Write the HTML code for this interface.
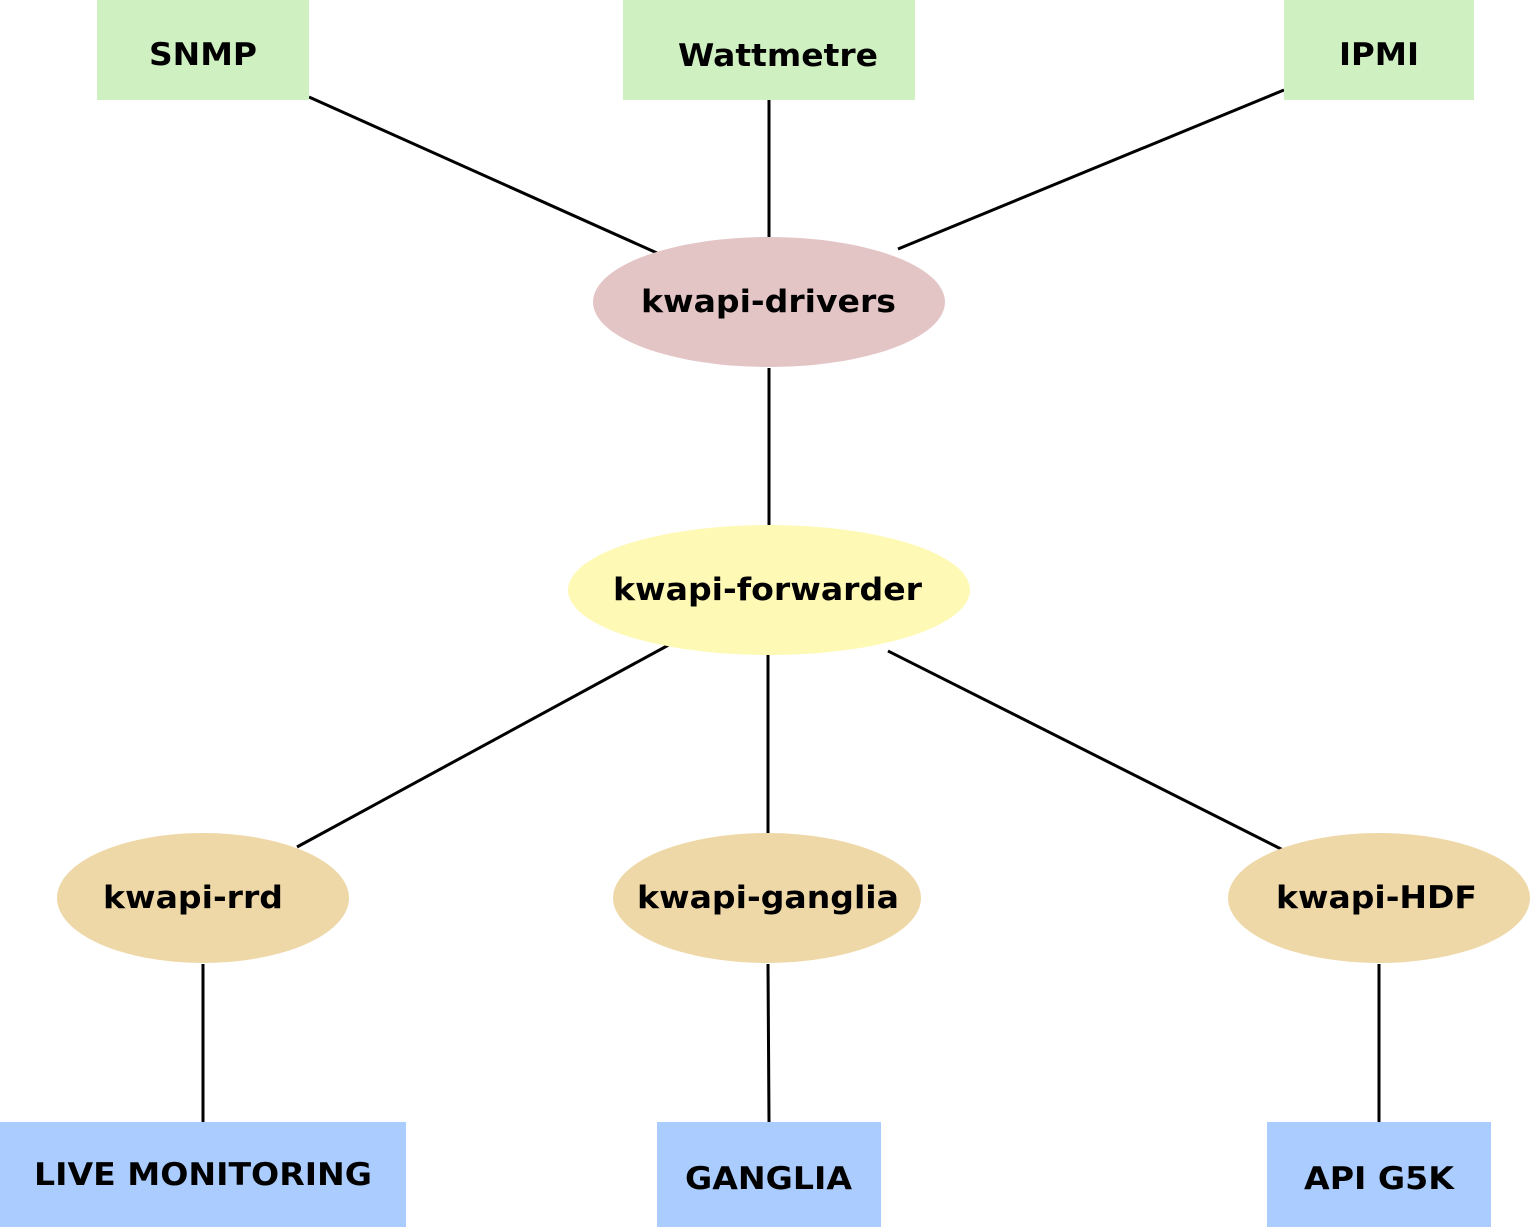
<!DOCTYPE html>
<html><head><style>html,body{margin:0;padding:0;background:#fff}svg{display:block}</style></head>
<body>
<svg width="1531" height="1227" viewBox="0 0 1531 1227" xmlns="http://www.w3.org/2000/svg" font-family="'DejaVu Sans','Liberation Sans',sans-serif" font-weight="bold" font-size="31">
<g stroke="#000" stroke-width="3" fill="none">
<line x1="309" y1="97" x2="666" y2="257"/>
<line x1="769" y1="100" x2="769" y2="238"/>
<line x1="1284" y1="90" x2="898" y2="249"/>
<line x1="769" y1="368" x2="769" y2="525"/>
<line x1="676" y1="641" x2="297" y2="847"/>
<line x1="768" y1="655" x2="768" y2="833"/>
<line x1="888" y1="651" x2="1283" y2="850"/>
<line x1="203" y1="964" x2="203" y2="1122"/>
<line x1="768" y1="964" x2="769" y2="1122"/>
<line x1="1379" y1="964" x2="1379" y2="1122"/>
</g>
<rect x="97" y="0" width="212" height="100" fill="#cff0c1"/>
<rect x="623" y="0" width="292" height="100" fill="#cff0c1"/>
<rect x="1284" y="0" width="190" height="100" fill="#cff0c1"/>
<ellipse cx="769" cy="302" rx="176" ry="65" fill="#e4c5c6"/>
<ellipse cx="769" cy="590" rx="201" ry="65" fill="#fef9b5"/>
<ellipse cx="203" cy="898" rx="146" ry="65" fill="#efd8a7"/>
<ellipse cx="767" cy="898" rx="154" ry="65" fill="#efd8a7"/>
<ellipse cx="1379" cy="898" rx="151" ry="65" fill="#efd8a7"/>
<rect x="0" y="1122" width="406" height="105" fill="#aaccfe"/>
<rect x="657" y="1122" width="224" height="105" fill="#aaccfe"/>
<rect x="1267" y="1122" width="224" height="105" fill="#aaccfe"/>
<g fill="#000">
<text x="149" y="65" textLength="108" lengthAdjust="spacingAndGlyphs">SNMP</text>
<text x="678" y="66" textLength="200" lengthAdjust="spacingAndGlyphs">Wattmetre</text>
<text x="1339" y="65" textLength="80" lengthAdjust="spacingAndGlyphs">IPMI</text>
<text x="641" y="312" textLength="255" lengthAdjust="spacingAndGlyphs">kwapi-drivers</text>
<text x="613" y="600" textLength="309" lengthAdjust="spacingAndGlyphs">kwapi-forwarder</text>
<text x="103" y="908" textLength="180" lengthAdjust="spacingAndGlyphs">kwapi-rrd</text>
<text x="637" y="908" textLength="262" lengthAdjust="spacingAndGlyphs">kwapi-ganglia</text>
<text x="1276" y="908" textLength="201" lengthAdjust="spacingAndGlyphs">kwapi-HDF</text>
<text x="34" y="1185" textLength="338" lengthAdjust="spacingAndGlyphs">LIVE MONITORING</text>
<text x="685" y="1189" textLength="167" lengthAdjust="spacingAndGlyphs">GANGLIA</text>
<text x="1304" y="1189" textLength="150" lengthAdjust="spacingAndGlyphs">API G5K</text>
</g>
</svg>
</body></html>
